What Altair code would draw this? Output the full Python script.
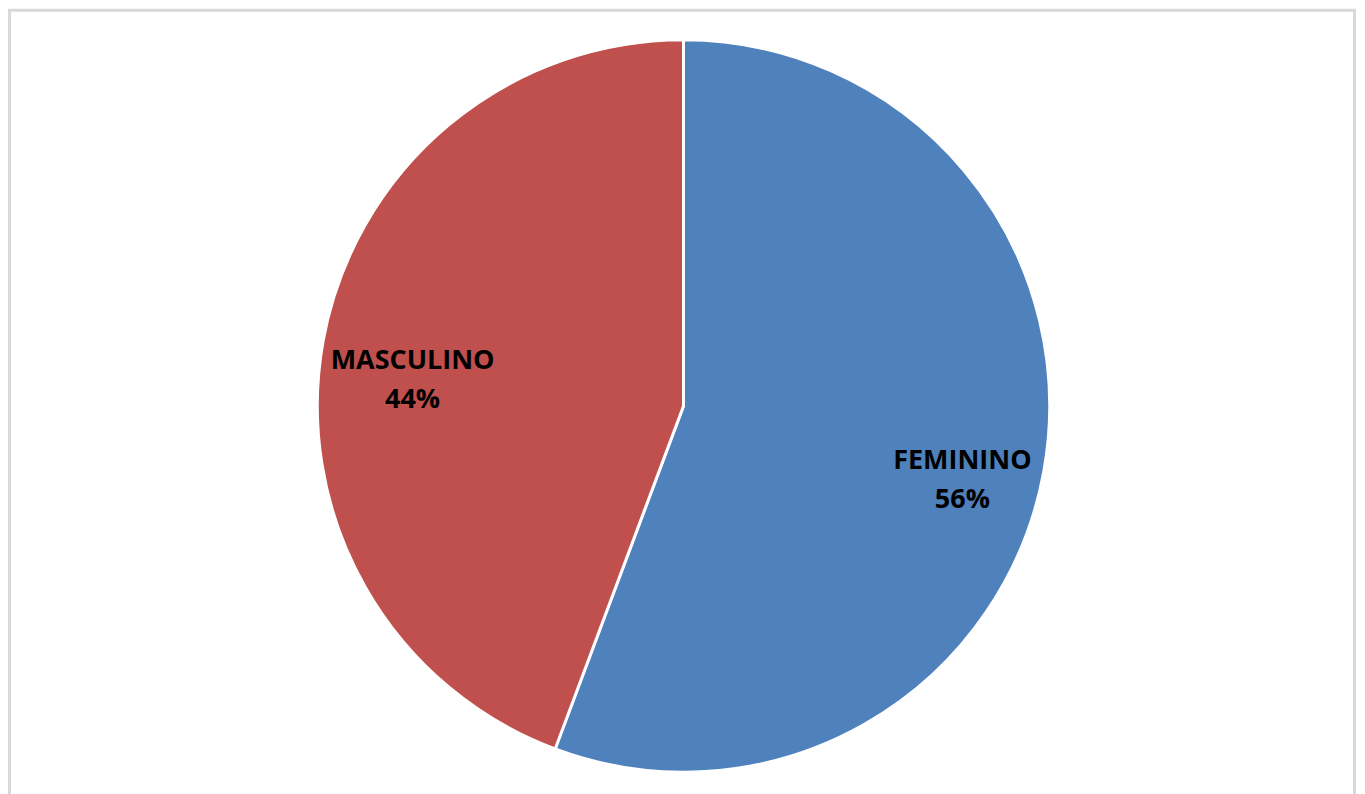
import altair as alt
import pandas as pd

categories = ["FEMININO", "MASCULINO"]
values = [55.7, 44.3]
colors = ["#4F81BD", "#C0504D"]

df = pd.DataFrame({
    "cat": categories,
    "val": values,
    "order": [0, 1],
})
df["label"] = [f"{c}\n{round(v):d}%" for c, v in zip(categories, values)]

W, H = 1352, 786
CX, CY = 677, 398

frame = alt.Chart(pd.DataFrame({"a": [0]})).mark_rect(
    fill="white", stroke="#D9D9D9", strokeWidth=3
).encode(
    x=alt.value(1.5), x2=alt.value(1349.5), y=alt.value(1.5), y2=alt.value(820)
)

base = alt.Chart(df).encode(
    theta=alt.Theta("val:Q", stack=True),
    order=alt.Order("order:Q"),
)

pie = base.mark_arc(radius=367, stroke="white", strokeWidth=3).encode(
    color=alt.Color("cat:N", scale=alt.Scale(domain=categories, range=colors), legend=None),
    x=alt.value(CX), y=alt.value(CY),
)

text = base.mark_text(
    radius=280, font="Open Sans", fontWeight="bold", fontSize=27,
    lineHeight=39, lineBreak="\n", align="center", baseline="middle",
    color="black", dx=4, dy=5,
).encode(
    text="label:N",
    x=alt.value(CX), y=alt.value(CY),
)

chart = alt.layer(frame, pie, text).properties(
    width=W, height=H, autosize=alt.AutoSizeParams(type="none"), padding=0
).configure_view(strokeWidth=0)

chart.save("out.html", embed_options={"renderer": "svg", "actions": False})
